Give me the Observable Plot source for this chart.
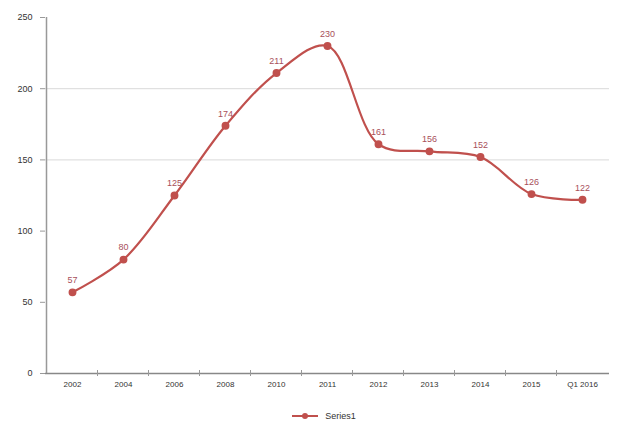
<!DOCTYPE html>
<html>
<head>
<meta charset="utf-8">
<script src="https://cdn.jsdelivr.net/npm/d3@7"></script>
<script src="https://cdn.jsdelivr.net/npm/@observablehq/plot@0.6"></script>
<style>
  html, body { margin: 0; padding: 0; background: #fff; }
  #chart { width: 619px; }
  .legend { height: 25px; display: flex; justify-content: center; align-items: center; font: 9px "Liberation Sans", Arial, sans-serif; color: #333; margin-left: 28px; padding-top: 6px; box-sizing: border-box; }
  .legend svg { margin-right: 6px; }
</style>
</head>
<body>
<div id="chart"></div>
<script>
const categories = ["2002", "2004", "2006", "2008", "2010", "2011", "2012", "2013", "2014", "2015", "Q1 2016"];
const values = [57, 80, 125, 174, 211, 230, 161, 156, 152, 126, 122];
const yTicks = [0, 50, 100, 150, 200, 250];
const gridTicks = [150, 200];
const seriesName = "Series1";
const color = "#c0504d";

const data = categories.map((c, i) => ({cat: c, value: values[i]}));

const chart = Plot.plot({
  width: 619,
  height: 400,
  marginLeft: 45,
  marginRight: 10,
  marginTop: 17,
  marginBottom: 27,
  style: {fontFamily: "'Liberation Sans', Arial, sans-serif", fontSize: "9px", color: "#333", background: "#fff"},
  x: {type: "point", domain: categories, padding: 0.5, label: null},
  y: {domain: [0, 250], label: null},
  marks: [
    Plot.gridY(gridTicks, {stroke: "#d9d9d9", strokeOpacity: 1}),
    Plot.axisY({ticks: yTicks, tickSize: 5, tickPadding: 8, stroke: "#999", fill: "#333", fontSize: 9}),
    Plot.axisX({tickSize: 0, tickPadding: 8, fill: "#333", fontSize: 8}),
    Plot.ruleY([0], {stroke: "#888", strokeWidth: 1.5}),
    Plot.line(data, {x: "cat", y: "value", stroke: color, strokeWidth: 2.2, curve: "catmull-rom"}),
    Plot.dot(data, {x: "cat", y: "value", r: 3.2, fill: color, stroke: color}),
    Plot.text(data, {x: "cat", y: "value", text: d => String(d.value), dy: -12, fill: "#a8505a", fontSize: 9})
  ]
});

// axis lines and between-category tick marks using the plot's scales
const xs = chart.scale("x");
const ys = chart.scale("y");
const svg = d3.select(chart);
const step = xs.step;
const x0 = xs.apply(categories[0]) - step / 2;
const yBottom = ys.apply(0), yTop = ys.apply(250);
svg.append("line").attr("x1", x0).attr("x2", x0).attr("y1", yTop).attr("y2", yBottom).attr("stroke", "#999").attr("stroke-width", 1.5);
const g = svg.append("g").attr("stroke", "#999");
for (let i = 1; i < categories.length; i++) {
  const bx = xs.apply(categories[i]) - step / 2;
  g.append("line").attr("x1", bx).attr("x2", bx).attr("y1", yBottom - 3).attr("y2", yBottom + 3);
}

document.getElementById("chart").appendChild(chart);

const legend = document.createElement("div");
legend.className = "legend";
legend.innerHTML = `<svg width="28" height="10"><line x1="1" x2="27" y1="5" y2="5" stroke="${color}" stroke-width="2"/><circle cx="14" cy="5" r="3" fill="${color}"/></svg><span>${seriesName}</span>`;
document.getElementById("chart").appendChild(legend);
</script>
</body>
</html>
